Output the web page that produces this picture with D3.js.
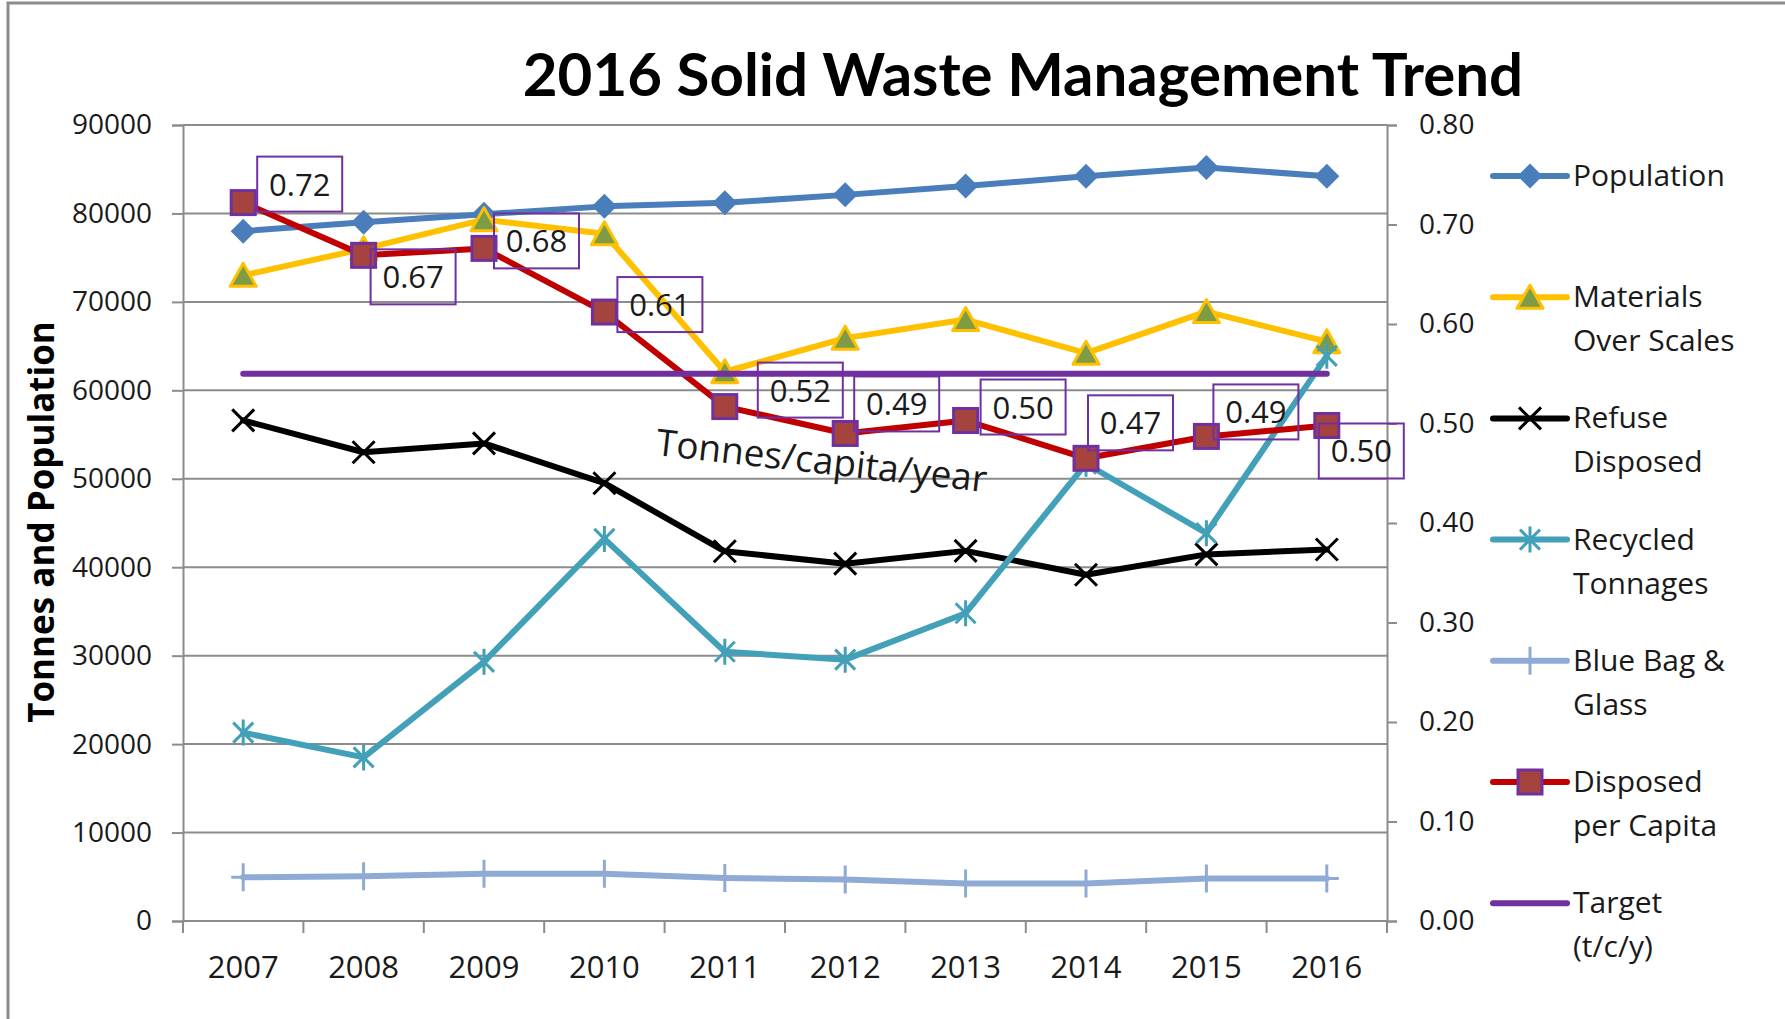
<!DOCTYPE html>
<html>
<head>
<meta charset="utf-8">
<script src="https://cdn.jsdelivr.net/npm/d3@7"></script>
<style>
  body { margin: 0; background: #fff; }
  text { font-family: 'Open Sans', sans-serif; fill: #1a1a1a; }
</style>
</head>
<body>
<svg id="chart"></svg>
<script>
// Values
const years = ["2007", "2008", "2009", "2010", "2011", "2012", "2013", "2014", "2015", "2016"];
const population = [78000, 79000, 79900, 80800, 81200, 82100, 83100, 84200, 85200, 84200];
const materials = [73000, 76000, 79300, 77700, 62100, 65900, 68000, 64200, 68900, 65500];
const refuse = [56600, 53000, 54000, 49500, 41800, 40400, 41850, 39150, 41450, 42000];
const recycled = [21300, 18500, 29300, 43200, 30450, 29550, 34800, 51700, 43850, 63900];
const blueBag = [4950, 5050, 5350, 5350, 4870, 4680, 4230, 4230, 4800, 4800];
const perCapita = [0.722, 0.669, 0.676, 0.612, 0.517, 0.490, 0.503, 0.465, 0.487, 0.498];
const target = [0.55, 0.55, 0.55, 0.55, 0.55, 0.55, 0.55, 0.55, 0.55, 0.55];
const leftTicks = [0, 10000, 20000, 30000, 40000, 50000, 60000, 70000, 80000, 90000];
const rightTicks = [0, 0.1, 0.2, 0.3, 0.4, 0.5, 0.6, 0.7, 0.8];

// where each per-capita label box sits, relative to its point (manual, like the Excel original)
const labelOffsets = [[14, -46], [7, -6], [10, -35], [13, -35], [33, -44], [9, -57], [15, -41], [2, -63], [7, -52], [-8, -2]];

const W = 1785, H = 1019;
const plot = {left: 183, right: 1387, top: 125, bottom: 921};
const gridColor = "#8c8c8c";

const svg = d3.select("#chart").attr("width", W).attr("height", H);

const x = d3.scaleBand().domain(years).range([plot.left, plot.right]);
const yL = d3.scaleLinear().domain([0, 90000]).range([plot.bottom, plot.top]);
const yR = d3.scaleLinear().domain([0, 0.8]).range([plot.bottom, plot.top]);
const cx = d => x(d) + x.bandwidth() / 2;

// outer frame (chart image is cropped at right/bottom)
svg.append("path")
  .attr("d", `M8,${H} L8,3 L${W},3`)
  .attr("fill", "none").attr("stroke", gridColor).attr("stroke-width", 3);

// Title
svg.append("text")
  .attr("x", 1023).attr("y", 96)
  .attr("text-anchor", "middle")
  .style("font-family", "Lato, 'Open Sans', sans-serif")
  .style("font-weight", 700).style("font-size", "60px")
  .style("fill", "#000")
  .text("2016 Solid Waste Management Trend");

// Gridlines
svg.append("g").selectAll("line")
  .data(leftTicks.slice(1))
  .enter().append("line")
  .attr("x1", plot.left).attr("x2", plot.right)
  .attr("y1", d => yL(d)).attr("y2", d => yL(d))
  .attr("stroke", gridColor).attr("stroke-width", 2);

// Left axis
const gLeft = svg.append("g")
  .attr("transform", `translate(${plot.left},0)`)
  .call(d3.axisLeft(yL).tickValues(leftTicks).tickFormat(d3.format("d")).tickSize(11).tickPadding(20));

// Right axis
const gRight = svg.append("g")
  .attr("transform", `translate(${plot.right},0)`)
  .call(d3.axisRight(yR).tickValues(rightTicks).tickFormat(d3.format(".2f")).tickSize(10).tickPadding(22));

[gLeft, gRight].forEach(g => {
  g.select(".domain").attr("stroke", gridColor).attr("stroke-width", 2);
  g.selectAll(".tick line").attr("stroke", gridColor).attr("stroke-width", 2);
  g.selectAll(".tick text").style("font-size", "28px").style("font-family", "'Open Sans', sans-serif").attr("fill", "#1a1a1a");
});

// Bottom axis: line, boundary ticks, year labels
svg.append("line")
  .attr("x1", plot.left).attr("x2", plot.right)
  .attr("y1", plot.bottom).attr("y2", plot.bottom)
  .attr("stroke", gridColor).attr("stroke-width", 2);
svg.append("g").selectAll("line")
  .data(years.map(d => x(d)).concat([plot.right]))
  .enter().append("line")
  .attr("x1", d => d).attr("x2", d => d)
  .attr("y1", plot.bottom).attr("y2", plot.bottom + 12)
  .attr("stroke", gridColor).attr("stroke-width", 2);
svg.append("g").selectAll("text")
  .data(years)
  .enter().append("text")
  .attr("x", d => cx(d)).attr("y", 978)
  .attr("text-anchor", "middle")
  .style("font-size", "31px")
  .text(d => d);

// Y axis title
svg.append("text")
  .attr("transform", "translate(54,522) rotate(-90)")
  .attr("text-anchor", "middle")
  .style("font-weight", 700).style("font-size", "35px").style("fill", "#000")
  .text("Tonnes and Population");

// Marker shapes
function drawMarker(g, type, px, py) {
  if (type === "diamond") {
    g.append("path").attr("d", `M${px},${py - 12.5}L${px + 12.5},${py}L${px},${py + 12.5}L${px - 12.5},${py}Z`)
      .attr("fill", "#4A7EBB");
  } else if (type === "triangle") {
    g.append("path").attr("d", `M${px},${py - 12}L${px + 13},${py + 11}L${px - 13},${py + 11}Z`)
      .attr("fill", "#7E9C46").attr("stroke", "#FFC000").attr("stroke-width", 3).attr("stroke-linejoin", "round");
  } else if (type === "x") {
    g.append("path").attr("d", `M${px - 11},${py - 11}L${px + 11},${py + 11}M${px + 11},${py - 11}L${px - 11},${py + 11}`)
      .attr("stroke", "#000").attr("stroke-width", 3);
  } else if (type === "star") {
    g.append("path").attr("d", `M${px},${py - 13}L${px},${py + 13}M${px - 10},${py - 10}L${px + 10},${py + 10}M${px + 10},${py - 10}L${px - 10},${py + 10}`)
      .attr("stroke", "#42A0B8").attr("stroke-width", 3);
  } else if (type === "plus") {
    g.append("path").attr("d", `M${px},${py - 14}L${px},${py + 14}M${px - 12},${py}L${px + 12},${py}`)
      .attr("stroke", "#8FAAD4").attr("stroke-width", 3);
  } else if (type === "square") {
    g.append("rect").attr("x", px - 12).attr("y", py - 12).attr("width", 24).attr("height", 24)
      .attr("fill", "#A5443E").attr("stroke", "#7030A0").attr("stroke-width", 3);
  }
}

const series = [
  {name: ["Population"], values: population, scale: yL, color: "#4A7EBB", marker: "diamond"},
  {name: ["Materials", "Over Scales"], values: materials, scale: yL, color: "#FFC000", marker: "triangle"},
  {name: ["Refuse", "Disposed"], values: refuse, scale: yL, color: "#000000", marker: "x"},
  {name: ["Recycled", "Tonnages"], values: recycled, scale: yL, color: "#42A0B8", marker: "star"},
  {name: ["Blue Bag &", "Glass"], values: blueBag, scale: yL, color: "#8FAAD4", marker: "plus"},
  {name: ["Disposed", "per Capita"], values: perCapita, scale: yR, color: "#C00000", marker: "square"},
  {name: ["Target", "(t/c/y)"], values: target, scale: yR, color: "#7030A0", marker: null}
];

// Lines and markers
series.forEach(s => {
  const g = svg.append("g");
  const line = d3.line().x((d, i) => cx(years[i])).y(d => s.scale(d));
  g.append("path")
    .datum(s.values)
    .attr("d", line)
    .attr("fill", "none")
    .attr("stroke", s.color)
    .attr("stroke-width", 6)
    .attr("stroke-linejoin", "round")
    .attr("stroke-linecap", "round");
  if (s.marker) {
    s.values.forEach((v, i) => drawMarker(g, s.marker, cx(years[i]), s.scale(v)));
  }
});

// Data labels for disposed per capita
const labels = svg.append("g");
perCapita.forEach((v, i) => {
  const bx = cx(years[i]) + labelOffsets[i][0];
  const by = yR(v) + labelOffsets[i][1];
  labels.append("rect")
    .attr("x", bx).attr("y", by).attr("width", 85).attr("height", 55)
    .attr("fill", "none").attr("stroke", "#7030A0").attr("stroke-width", 2);
  labels.append("text")
    .attr("x", bx + 42.5).attr("y", by + 39)
    .attr("text-anchor", "middle")
    .style("font-size", "31px")
    .text(d3.format(".2f")(v));
});

// Free text annotation
svg.append("text")
  .attr("transform", "translate(655,455) rotate(6.4)")
  .style("font-size", "37px")
  .text("Tonnes/capita/year");

// Legend
const legend = svg.append("g");
series.forEach((s, i) => {
  const ly = 176 + i * 121.2;
  legend.append("line")
    .attr("x1", 1493).attr("x2", 1567).attr("y1", ly).attr("y2", ly)
    .attr("stroke", s.color).attr("stroke-width", 6).attr("stroke-linecap", "round");
  if (s.marker) drawMarker(legend, s.marker, 1530, ly);
  s.name.forEach((t, j) => {
    legend.append("text")
      .attr("x", 1573).attr("y", ly + 10 + j * 44)
      .style("font-size", "30px")
      .text(t);
  });
});
</script>
</body>
</html>
